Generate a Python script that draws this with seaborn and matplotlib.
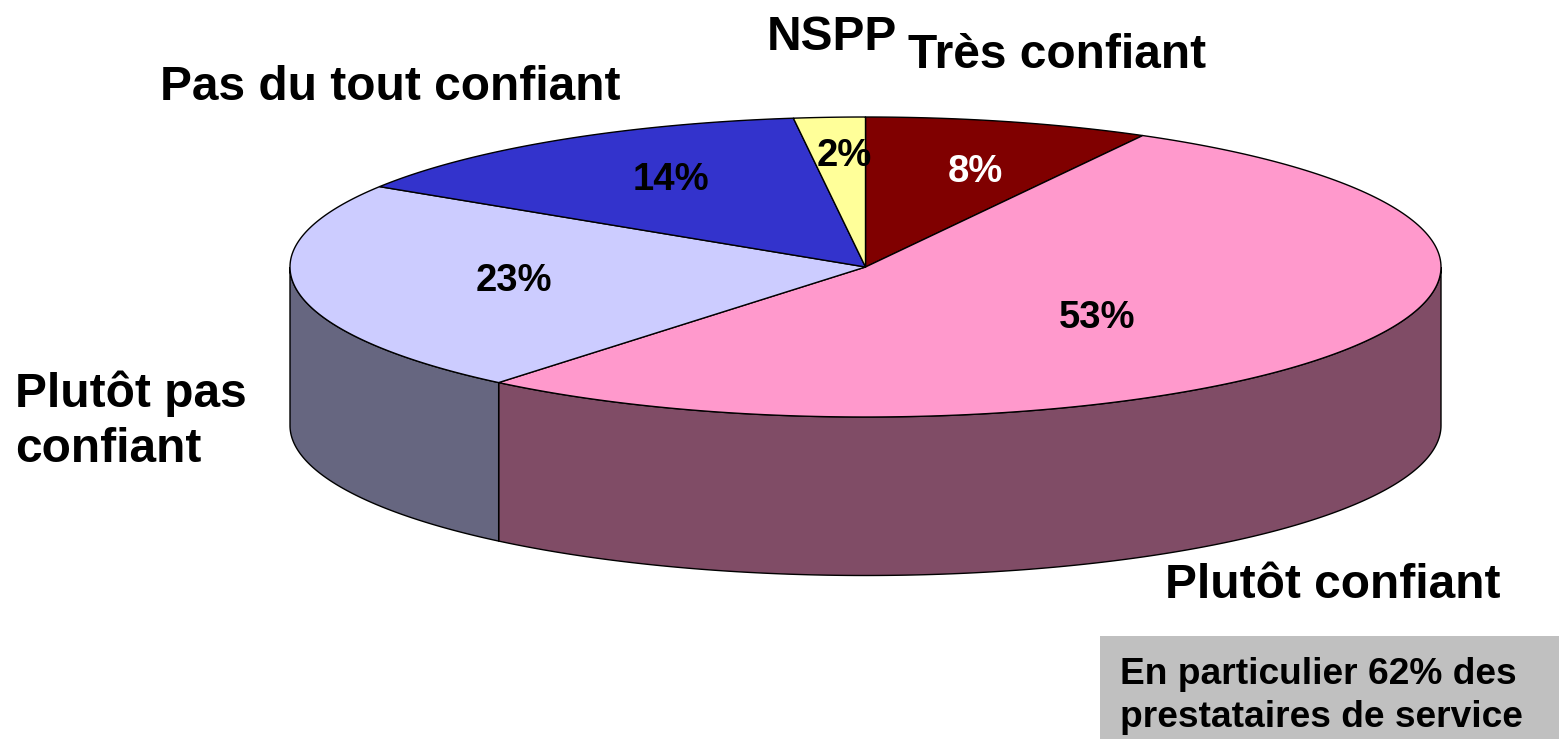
import numpy as np
import matplotlib.pyplot as plt
import seaborn as sns

labels = ["Très confiant", "Plutôt confiant", "Plutôt pas\nconfiant", "Pas du tout confiant", "NSPP"]
values = [8, 53, 23, 14, 2]
colors = ["#800000", "#FF99CC", "#CCCCFF", "#3333CC", "#FFFF99"]
side_colors = ["#400000", "#804C66", "#666680", "#1A1A66", "#80804C"]
pct_colors = ["white", "black", "black", "black", "black"]

# label spots, in pixels of the picture
label_pos = [(1057, 56), (1333, 585), (15, 421), (390, 88), (832, 38)]
pct_pos = [(975, 172), (1097, 318), (514, 281), (671, 180), (844, 156)]

cx, cy = 865.5, 267
rx, ry = 575.5, 150
depth = 158.5

sns.set_theme(style="white")
plt.rcParams["font.family"] = ["Liberation Sans", "DejaVu Sans"]

fig = plt.figure(figsize=(15.59, 7.39), dpi=100)
ax = fig.add_axes([0, 0, 1, 1])
ax.set_xlim(0, 1559)
ax.set_ylim(739, 0)
ax.axis("off")


def rim(a0, a1, n=200):
    # angles in degrees clockwise from the top of the pie
    t = np.radians(np.linspace(a0, a1, n))
    return cx + rx * np.sin(t), cy - ry * np.cos(t)


edges = np.cumsum([0] + values) * 3.6

# side wall: only the part of the rim facing the viewer (90 to 270 degrees)
for i in range(len(values)):
    a0 = max(edges[i], 90)
    a1 = min(edges[i + 1], 270)
    if a0 >= a1:
        continue
    x, y = rim(a0, a1)
    xs = np.concatenate([x, x[::-1]])
    ys = np.concatenate([y, y[::-1] + depth])
    ax.fill(xs, ys, facecolor=side_colors[i], edgecolor="black", linewidth=1, zorder=1)

# top face
for i in range(len(values)):
    x, y = rim(edges[i], edges[i + 1])
    xs = np.concatenate([[cx], x])
    ys = np.concatenate([[cy], y])
    ax.fill(xs, ys, facecolor=colors[i], edgecolor="black", linewidth=1, zorder=2, joinstyle="round")

for i in range(len(values)):
    ax.text(pct_pos[i][0], pct_pos[i][1], f"{values[i]}%", color=pct_colors[i], fontsize=27.5,
            fontweight="bold", ha="center", va="center", zorder=3)

for i in range(len(labels)):
    ha = "left" if i == 2 else "center"
    ax.text(label_pos[i][0], label_pos[i][1], labels[i], fontsize=34.5, fontweight="bold", color="black",
            ha=ha, va="center", linespacing=1.29, zorder=3)

# grey note box
ax.text(1120, 696, "En particulier 62% des\nprestataires de service", fontsize=26.7, fontweight="bold",
        color="black", ha="left", va="center", linespacing=1.3, zorder=3)
ax.axhspan(636, 739, xmin=1100 / 1559, xmax=1, facecolor="#C0C0C0", edgecolor="none", zorder=2)

fig.savefig("out.png", dpi=100, facecolor="white")
plt.close()
